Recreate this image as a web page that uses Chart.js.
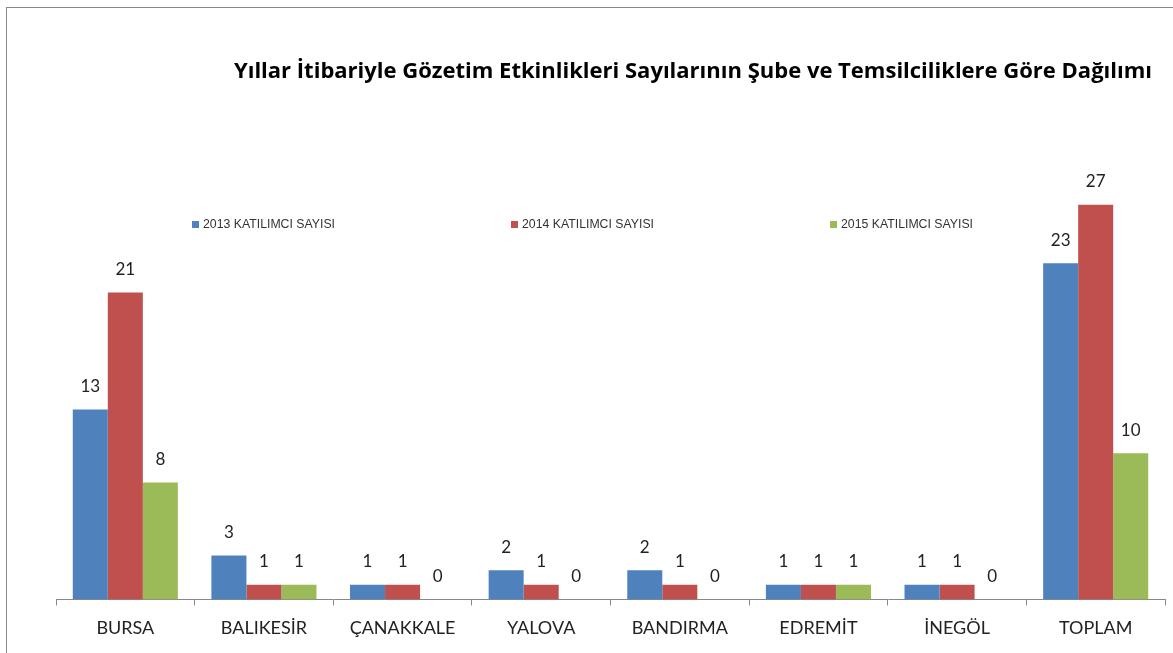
<!DOCTYPE html>
<html lang="tr">
<head>
<meta charset="UTF-8" />
<title>Gözetim Etkinlikleri</title>
<script src="https://cdn.jsdelivr.net/npm/chart.js@4.4.1/dist/chart.umd.min.js"></script>
<style>
  html, body { margin: 0; padding: 0; background: #fff; overflow: hidden; }
  #frame { position: absolute; left: 6px; top: 7px; width: 1300px; height: 800px;
           border-left: 1px solid #888; border-top: 1px solid #888; }
  #wrap { position: absolute; left: 0; top: 0; width: 1173px; height: 653px; }
</style>
</head>
<body>
<div id="frame"></div>
<div id="wrap"><canvas id="chart" width="1173" height="653"></canvas></div>
<script>
  const titleText = 'Yıllar İtibariyle Gözetim Etkinlikleri Sayılarının Şube ve Temsilciliklere Göre Dağılımı'
  const categories = ['BURSA', 'BALIKESİR', 'ÇANAKKALE', 'YALOVA', 'BANDIRMA', 'EDREMİT', 'İNEGÖL', 'TOPLAM']
  const seriesNames = ['2013 KATILIMCI SAYISI', '2014 KATILIMCI SAYISI', '2015 KATILIMCI SAYISI']
  const values2013 = [13, 3, 1, 2, 2, 1, 1, 23]
  const values2014 = [21, 1, 1, 1, 1, 1, 1, 27]
  const values2015 = [8, 1, 0, 0, 0, 1, 0, 10]
  const colors = ['#4F81BD', '#C0504D', '#9BBB59']

  // title sits right of centre, like the original sheet
  const titlePlugin = {
    id: 'sheetTitle',
    afterDraw(chart) {
      const c = chart.ctx
      c.save()
      c.font = 'bold 22px "Open Sans"'
      c.fillStyle = '#000'
      c.textAlign = 'center'
      c.textBaseline = 'middle'
      c.fillText(titleText, 693, 72, 920)
      c.restore()
    },
  }

  // legend spread across the plot, drawn by hand
  const legendPlugin = {
    id: 'wideLegend',
    afterDraw(chart) {
      const c = chart.ctx
      c.save()
      c.font = '12.5px "Liberation Sans"'
      c.textBaseline = 'middle'
      chart.data.datasets.forEach((ds, i) => {
        const x = 192 + i * 319
        c.fillStyle = ds.backgroundColor
        c.fillRect(x, 221, 7, 7)
        c.fillStyle = '#333'
        c.fillText(ds.label, x + 11, 225, 132)
      })
      c.restore()
    },
  }

  const valueLabels = {
    id: 'valueLabels',
    afterDatasetsDraw(chart) {
      const c = chart.ctx
      c.save()
      c.font = '17px Lato'
      c.fillStyle = '#222'
      c.textAlign = 'center'
      c.textBaseline = 'middle'
      chart.data.datasets.forEach((ds, i) => {
        chart.getDatasetMeta(i).data.forEach((bar, j) => {
          c.fillText(String(ds.data[j]), bar.x, bar.y - 23)
        })
      })
      c.restore()
    },
  }

  const ctx = document.getElementById('chart')
  const chart = new Chart(ctx, {
    type: 'bar',
    data: {
      labels: categories,
      datasets: [
        { label: seriesNames[0], data: values2013, backgroundColor: colors[0] },
        { label: seriesNames[1], data: values2014, backgroundColor: colors[1] },
        { label: seriesNames[2], data: values2015, backgroundColor: colors[2] },
      ],
    },
    options: {
      responsive: false,
      animation: false,
      layout: { padding: { left: 56, right: 8, top: 161, bottom: 2 } },
      datasets: { bar: { categoryPercentage: 0.758, barPercentage: 1 } },
      plugins: { legend: { display: false }, title: { display: false }, tooltip: { enabled: false } },
      scales: {
        y: { display: false, min: 0, max: 30 },
        x: {
          border: { display: true, color: '#888' },
          grid: { drawOnChartArea: false, drawTicks: true, tickLength: 6, color: '#888', offset: true },
          ticks: { font: { family: 'Lato', size: 18 }, color: '#222', padding: 12, maxRotation: 0 },
        },
      },
    },
    plugins: [titlePlugin, legendPlugin, valueLabels],
  })
</script>
</body>
</html>
